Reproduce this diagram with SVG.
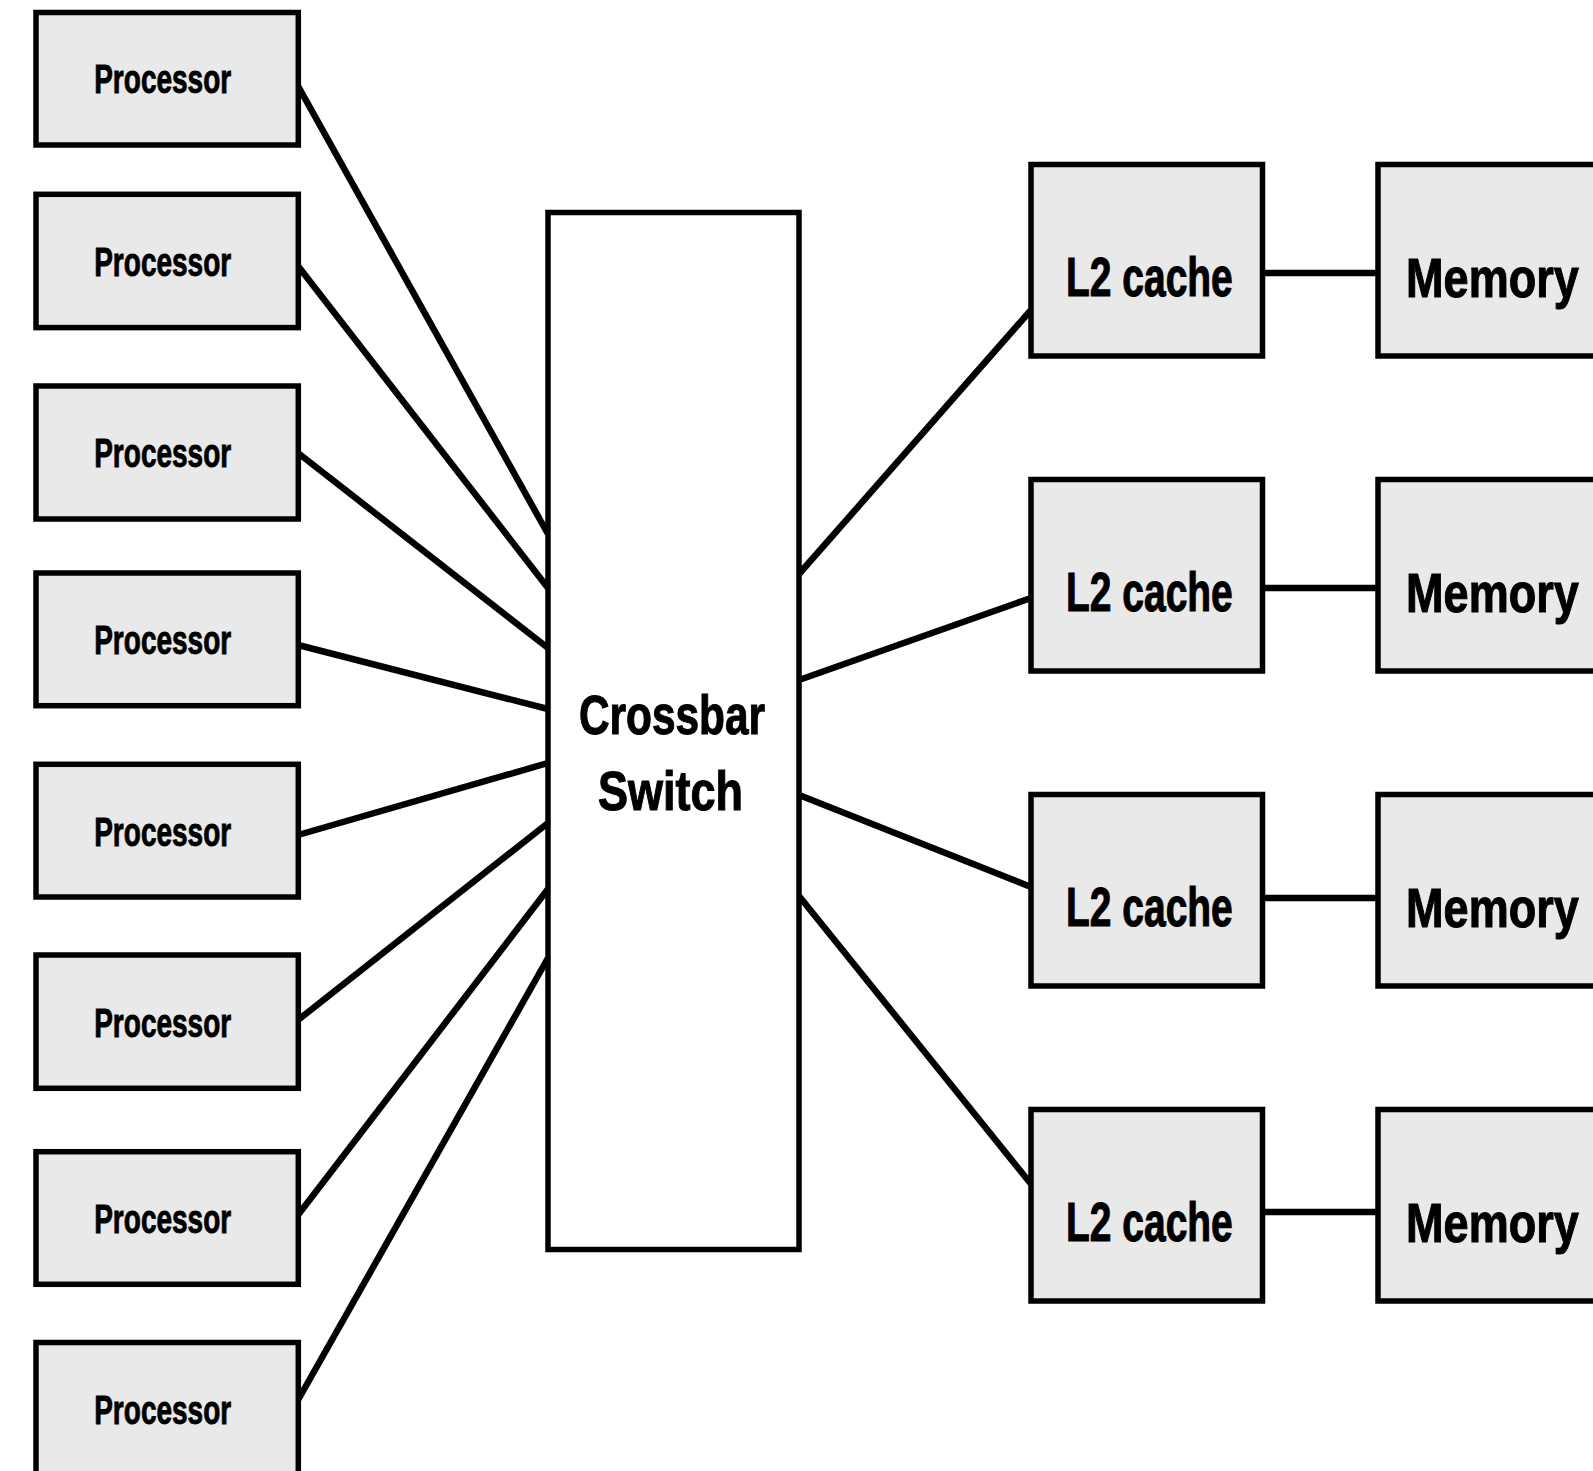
<svg xmlns="http://www.w3.org/2000/svg" width="1593" height="1471" viewBox="0 0 1593 1471">
  <style>
    .box { fill: #e9e9e9; stroke: #000; stroke-width: 5.5; }
    .xbar { fill: #fff; stroke: #000; stroke-width: 5.5; }
    .wire { stroke: #000; stroke-width: 6.5; fill: none; stroke-linecap: butt; }
    .lbl { font-family: "Liberation Sans", Arial, sans-serif; font-weight: bold; fill: #000; stroke: #000; stroke-width: 0.9; text-anchor: middle; }
    .proc { font-size: 41px; }
    .big { font-size: 56px; stroke-width: 1.1; }
  </style>
  <rect width="1593" height="1471" fill="#fff"/>

  <!-- connectors -->
  <g id="connectors">
    <line class="wire" x1="298" y1="86" x2="548" y2="534"/>
    <line class="wire" x1="298" y1="266" x2="548" y2="588"/>
    <line class="wire" x1="298" y1="453" x2="548" y2="648"/>
    <line class="wire" x1="298" y1="645" x2="548" y2="709"/>
    <line class="wire" x1="298" y1="835" x2="548" y2="763"/>
    <line class="wire" x1="298" y1="1020" x2="548" y2="823"/>
    <line class="wire" x1="298" y1="1215" x2="548" y2="889"/>
    <line class="wire" x1="298" y1="1400" x2="548" y2="958"/>

    <line class="wire" x1="799" y1="574" x2="1031" y2="310"/>
    <line class="wire" x1="799" y1="680" x2="1031" y2="598"/>
    <line class="wire" x1="799" y1="795" x2="1031" y2="887"/>
    <line class="wire" x1="799" y1="896" x2="1031" y2="1184"/>

    <line class="wire" x1="1262" y1="273" x2="1378" y2="273"/>
    <line class="wire" x1="1262" y1="588" x2="1378" y2="588"/>
    <line class="wire" x1="1262" y1="898" x2="1378" y2="898"/>
    <line class="wire" x1="1262" y1="1212" x2="1378" y2="1212"/>
  </g>

  <!-- processors -->
  <g id="proc1"><rect class="box" x="36" y="12.5" width="262.3" height="132.5"/><text class="lbl proc" x="162.7" y="93.3" textLength="137" lengthAdjust="spacingAndGlyphs">Processor</text></g>
  <g id="proc2"><rect class="box" x="36" y="194.3" width="262.3" height="133.3"/><text class="lbl proc" x="162.7" y="276" textLength="137" lengthAdjust="spacingAndGlyphs">Processor</text></g>
  <g id="proc3"><rect class="box" x="36" y="386" width="262.3" height="133"/><text class="lbl proc" x="162.7" y="467.3" textLength="137" lengthAdjust="spacingAndGlyphs">Processor</text></g>
  <g id="proc4"><rect class="box" x="36" y="573" width="262.3" height="132.7"/><text class="lbl proc" x="162.7" y="654.2" textLength="137" lengthAdjust="spacingAndGlyphs">Processor</text></g>
  <g id="proc5"><rect class="box" x="36" y="764.3" width="262.3" height="132.7"/><text class="lbl proc" x="162.7" y="845.5" textLength="137" lengthAdjust="spacingAndGlyphs">Processor</text></g>
  <g id="proc6"><rect class="box" x="36" y="955" width="262.3" height="133.3"/><text class="lbl proc" x="162.7" y="1036.5" textLength="137" lengthAdjust="spacingAndGlyphs">Processor</text></g>
  <g id="proc7"><rect class="box" x="36" y="1151.7" width="262.3" height="132.6"/><text class="lbl proc" x="162.7" y="1232.9" textLength="137" lengthAdjust="spacingAndGlyphs">Processor</text></g>
  <g id="proc8"><rect class="box" x="36" y="1342.5" width="262.3" height="133"/><text class="lbl proc" x="162.7" y="1423.7" textLength="137" lengthAdjust="spacingAndGlyphs">Processor</text></g>

  <!-- crossbar switch -->
  <g id="crossbar">
    <rect class="xbar" x="548" y="212.5" width="251" height="1037"/>
    <text class="lbl big" x="672" y="734" textLength="186" lengthAdjust="spacingAndGlyphs">Crossbar</text>
    <text class="lbl big" x="670.5" y="810" textLength="145" lengthAdjust="spacingAndGlyphs">Switch</text>
  </g>

  <!-- L2 caches -->
  <g id="l2_1"><rect class="box" x="1031" y="164.5" width="231.5" height="191.5"/><text class="lbl big" x="1149.4" y="296" textLength="166.7" lengthAdjust="spacingAndGlyphs">L2 cache</text></g>
  <g id="l2_2"><rect class="box" x="1031" y="479.5" width="231.5" height="191.5"/><text class="lbl big" x="1149.4" y="611" textLength="166.7" lengthAdjust="spacingAndGlyphs">L2 cache</text></g>
  <g id="l2_3"><rect class="box" x="1031" y="794.5" width="231.5" height="191.5"/><text class="lbl big" x="1149.4" y="926" textLength="166.7" lengthAdjust="spacingAndGlyphs">L2 cache</text></g>
  <g id="l2_4"><rect class="box" x="1031" y="1109.5" width="231.5" height="191.5"/><text class="lbl big" x="1149.4" y="1241" textLength="166.7" lengthAdjust="spacingAndGlyphs">L2 cache</text></g>

  <!-- memories: labels squeezed horizontally so they stay inside the page -->
  <g id="mem1"><rect class="box" x="1378" y="164.5" width="231.5" height="191.5"/><text class="lbl big" transform="translate(1492.4 296.7) scale(0.804 1)">Memory</text></g>
  <g id="mem2"><rect class="box" x="1378" y="479.5" width="231.5" height="191.5"/><text class="lbl big" transform="translate(1492.4 611.7) scale(0.804 1)">Memory</text></g>
  <g id="mem3"><rect class="box" x="1378" y="794.5" width="231.5" height="191.5"/><text class="lbl big" transform="translate(1492.4 926.7) scale(0.804 1)">Memory</text></g>
  <g id="mem4"><rect class="box" x="1378" y="1109.5" width="231.5" height="191.5"/><text class="lbl big" transform="translate(1492.4 1241.7) scale(0.804 1)">Memory</text></g>
</svg>
